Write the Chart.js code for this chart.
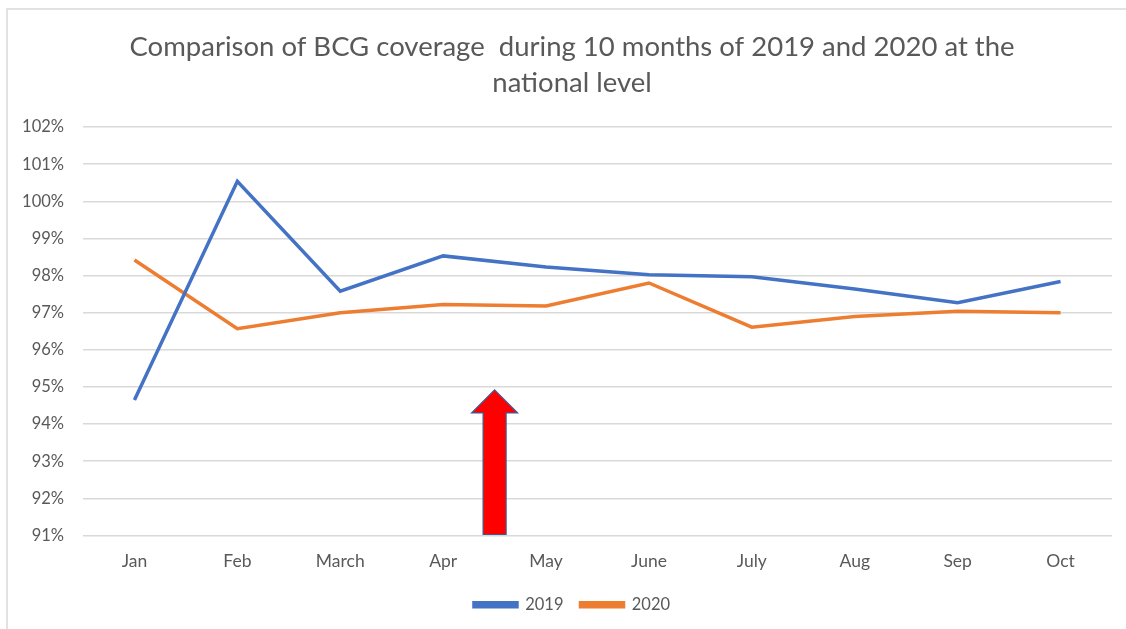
<!DOCTYPE html>
<html>
<head>
<meta charset="utf-8">
<script src="https://cdn.jsdelivr.net/npm/chart.js@4"></script>
<style>
  html, body { margin: 0; padding: 0; background: #ffffff; }
  #wrap { width: 1126px; height: 629px; position: relative; }
</style>
</head>
<body>
<div id="wrap"><canvas id="c" width="1126" height="629"></canvas></div>
<script>
// Months and BCG coverage (%) for each year
const months = ['Jan', 'Feb', 'March', 'Apr', 'May', 'June', 'July', 'Aug', 'Sep', 'Oct'];
const coverage2019 = [94.65, 100.54, 97.58, 98.53, 98.23, 98.02, 97.97, 97.64, 97.27, 97.84];
const coverage2020 = [98.42, 96.57, 97.00, 97.22, 97.18, 97.80, 96.61, 96.90, 97.04, 97.00];
const yTicks = { min: 91, max: 102, step: 1 };
const titleLines = ['Comparison of BCG coverage  during 10 months of 2019 and 2020 at the', 'national level'];

// Upward arrow between Apr and May (category position, tip / head base / tail in %)
const arrowPos = 3.5;
const arrowTip = 94.92, arrowHeadBase = 94.3, arrowTail = 91;

const FONT = 'Lato, "Open Sans", sans-serif';
const TEXT = '#595959';

const framePlugin = {
  id: 'frame',
  beforeDraw(chart) {
    const ctx = chart.ctx;
    ctx.save();
    ctx.fillStyle = '#ffffff';
    ctx.fillRect(0, 0, chart.width, chart.height);
    ctx.strokeStyle = '#d9d9d9';
    ctx.lineWidth = 1.5;
    ctx.beginPath();
    ctx.moveTo(7, chart.height);
    ctx.lineTo(7, 9);
    ctx.lineTo(chart.width, 9);
    ctx.stroke();
    ctx.restore();
  }
};

const arrowPlugin = {
  id: 'arrow',
  afterDatasetsDraw(chart) {
    const x = chart.scales.x, y = chart.scales.y;
    const cx = x.getPixelForValue(arrowPos);
    const tipY = y.getPixelForValue(arrowTip);
    const baseY = y.getPixelForValue(arrowHeadBase);
    const tailY = y.getPixelForValue(arrowTail) - 1;
    const headHalf = 23, shaftHalf = 11.5;
    const ctx = chart.ctx;
    ctx.save();
    ctx.beginPath();
    ctx.moveTo(cx, tipY);
    ctx.lineTo(cx + headHalf, baseY);
    ctx.lineTo(cx + shaftHalf, baseY);
    ctx.lineTo(cx + shaftHalf, tailY);
    ctx.lineTo(cx - shaftHalf, tailY);
    ctx.lineTo(cx - shaftHalf, baseY);
    ctx.lineTo(cx - headHalf, baseY);
    ctx.closePath();
    ctx.fillStyle = '#ff0000';
    ctx.fill();
    ctx.strokeStyle = '#41598f';
    ctx.lineWidth = 1.2;
    ctx.stroke();
    ctx.restore();
  }
};

new Chart(document.getElementById('c'), {
  type: 'line',
  data: {
    labels: months,
    datasets: [
      { label: '2019', data: coverage2019, borderColor: '#4472C4', backgroundColor: '#4472C4',
        borderWidth: 3.5, pointRadius: 0, tension: 0 },
      { label: '2020', data: coverage2020, borderColor: '#ED7D31', backgroundColor: '#ED7D31',
        borderWidth: 3.5, pointRadius: 0, tension: 0 }
    ]
  },
  options: {
    responsive: false,
    animation: false,
    layout: { padding: { left: 20, right: 2, top: 0, bottom: 6 } },
    plugins: {
      title: {
        display: true,
        text: titleLines,
        color: TEXT,
        font: { family: FONT, size: 27.5, weight: 'normal', lineHeight: 1.31 },
        padding: { top: 29, bottom: 26 }
      },
      legend: {
        position: 'bottom',
        labels: {
          color: TEXT,
          font: { family: FONT, size: 16.5 },
          boxWidth: 43,
          boxHeight: 4,
          padding: 17
        }
      },
      tooltip: { enabled: false }
    },
    scales: {
      x: {
        offset: true,
        grid: { display: false, drawTicks: false },
        border: { display: false },
        ticks: { color: TEXT, font: { family: FONT, size: 17.5 }, padding: 15, maxRotation: 0 },
        afterFit(scale) { scale.height = 44; }
      },
      y: {
        min: yTicks.min,
        max: yTicks.max,
        grid: { color: '#d9d9d9', lineWidth: 1.5, drawTicks: false },
        border: { display: false },
        ticks: {
          stepSize: yTicks.step,
          color: TEXT,
          font: { family: FONT, size: 16.5 },
          padding: 19,
          callback: v => v + '%'
        },
        afterFit(scale) { scale.width = 63; }
      },
      // empty right-hand margin axis (no ticks, no grid)
      yRight: {
        position: 'right',
        display: true,
        grid: { display: false, drawTicks: false },
        border: { display: false },
        ticks: { display: false },
        afterFit(scale) { scale.width = 12; }
      }
    }
  },
  plugins: [framePlugin, arrowPlugin]
});
</script>
</body>
</html>
